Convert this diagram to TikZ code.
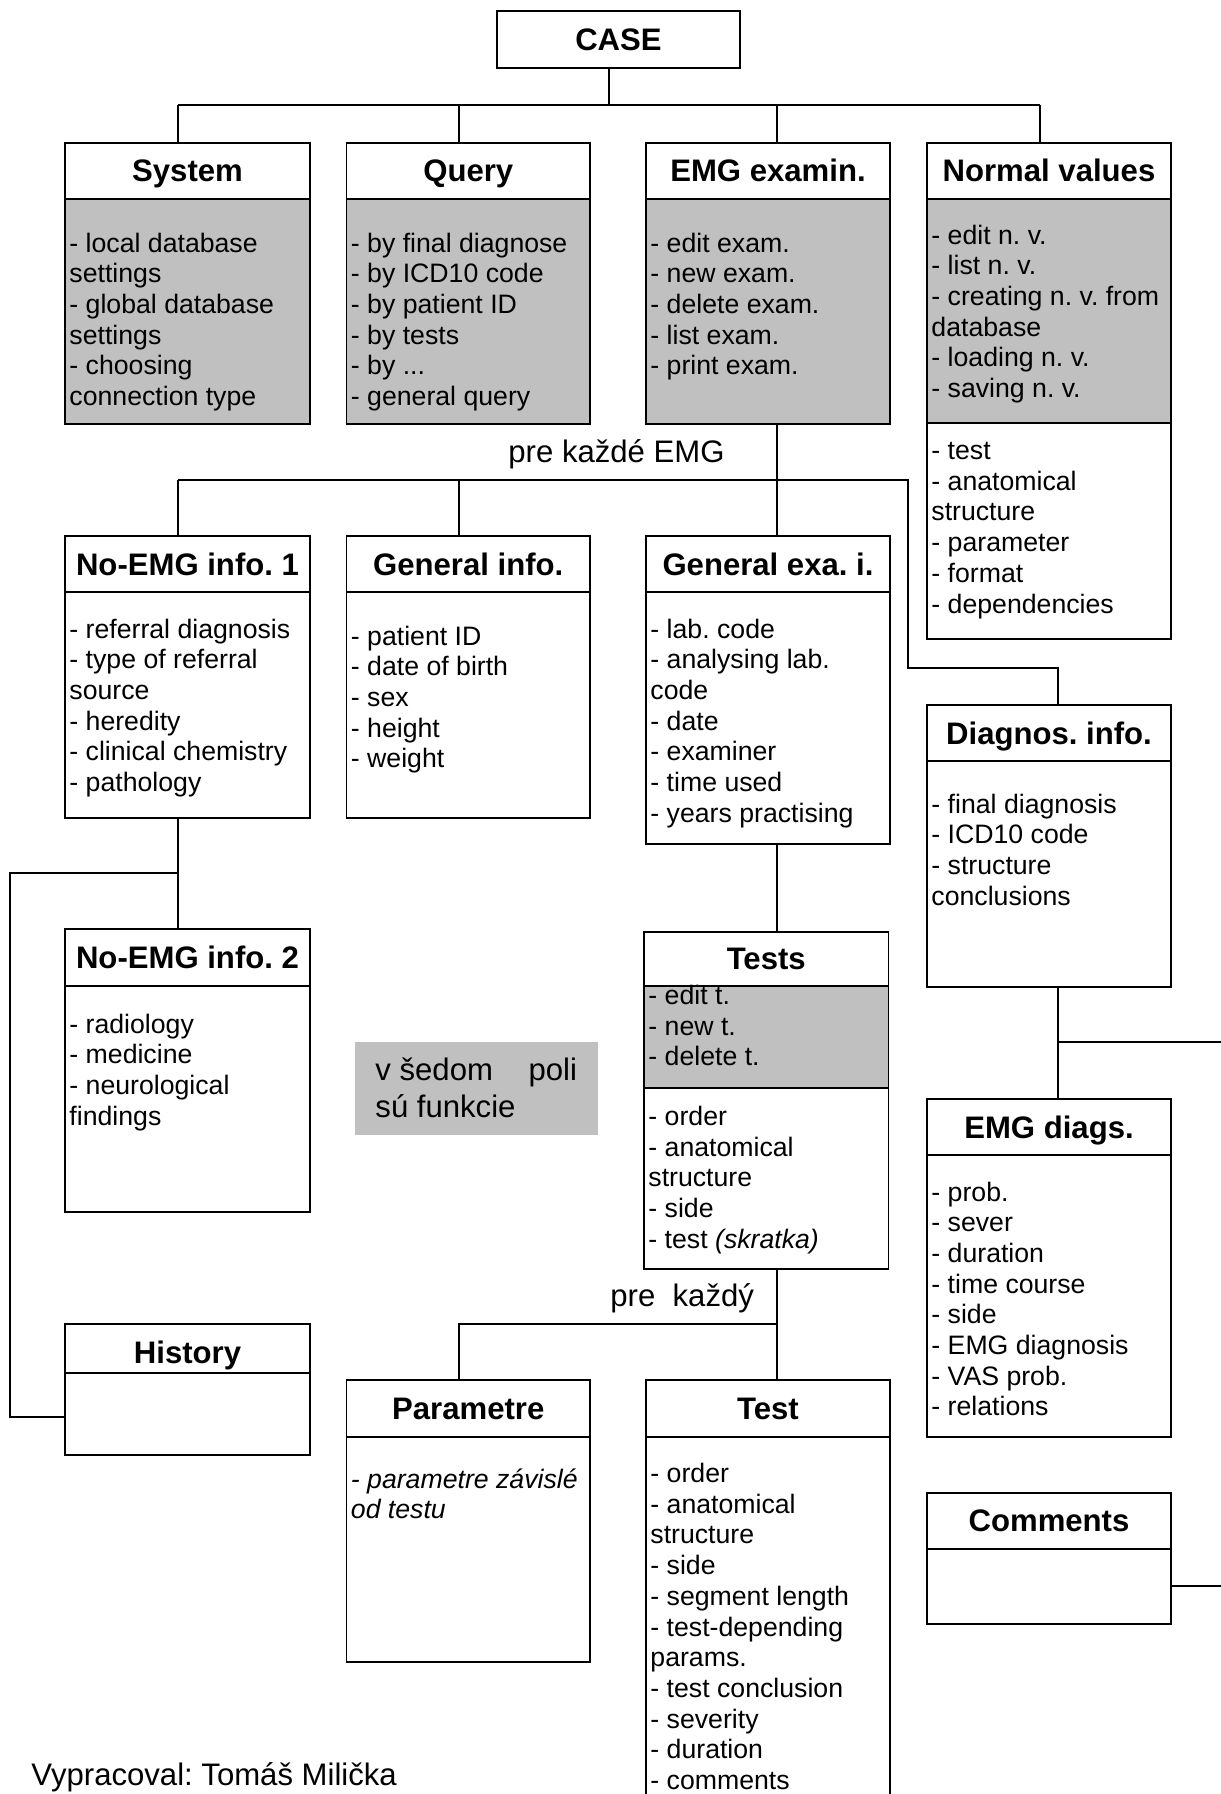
\documentclass[tikz,border=0pt]{standalone}
\usepackage{fontspec}
\setmainfont{Liberation Sans}
\usetikzlibrary{fit}
\definecolor{gfill}{RGB}{192,192,192}
\frenchspacing
\newcommand\boxlines[4]{\foreach \t [count=\i] in {#4} {\node[itm] (#1\i) at (#2,{#3+(\i-1)*30.7}) {\t};}}
\begin{document}
\begin{tikzpicture}[x=0.45pt,y=-0.45pt,
  hd/.style={draw, line width=0.8pt, inner sep=0pt},
  ttl/.style={anchor=base, inner sep=0pt, yshift=-5pt, font=\fontsize{14}{16}\selectfont\bfseries},
  bd/.style={draw, line width=0.8pt, inner sep=0pt},
  gbd/.style={bd, fill=gfill},
  itm/.style={anchor=base west, inner sep=0pt, font=\fontsize{12}{14}\selectfont},
  lab/.style={anchor=base west, inner sep=0pt, font=\fontsize{14}{16}\selectfont},
  con/.style={line width=0.75pt}]
\useasboundingbox (0,0) rectangle (1221,1794);

% legend box
\node[fit={(355,1042) (598,1134.7)}, fill=gfill, inner sep=0pt] (leg) {};
\node[lab] (leg1) at (375,1080) {v šedom\hspace{16pt}poli};
\node[lab] (leg2) at (375,1117) {sú funkcie};

% boxes
\node[hd, fit={(497,10.7) (740,68)}] (case) {};

\node[hd, fit={(65,142.7) (310,198.7)}] (sysH) {};
\node[gbd, fit={(65,198.7) (310,424)}] (sysB) {};
\node[hd, fit={(346.5,142.7) (590,198.7)}] (qH) {};
\node[gbd, fit={(346.5,198.7) (590,424)}] (qB) {};
\node[hd, fit={(646,142.7) (890,198.7)}] (emH) {};
\node[gbd, fit={(646,198.7) (890,424)}] (emB) {};
\node[hd, fit={(927,142.7) (1171,198.7)}] (nvH) {};
\node[gbd, fit={(927,198.7) (1171,423)}] (nvB) {};
\node[bd, fit={(927,423) (1171,639)}] (nvB2) {};

\node[hd, fit={(65,536) (310,592)}] (ne1H) {};
\node[bd, fit={(65,592) (310,817.7)}] (ne1B) {};
\node[hd, fit={(346.5,536) (590,592)}] (giH) {};
\node[bd, fit={(346.5,592) (590,817.7)}] (giB) {};
\node[hd, fit={(646,536) (890,592)}] (gxH) {};
\node[bd, fit={(646,592) (890,844)}] (gxB) {};
\node[hd, fit={(927,705) (1171,761)}] (diH) {};
\node[bd, fit={(927,761) (1171,986.7)}] (diB) {};

\node[hd, fit={(65,929.3) (310,986)}] (ne2H) {};
\node[bd, fit={(65,986) (310,1211.7)}] (ne2B) {};
\node[hd, fit={(644,931.7) (888.5,986)}] (tsH) {};
\node[gbd, fit={(644,986) (888.5,1087.7)}] (tsB) {};
\node[bd, fit={(644,1087.7) (888.5,1269)}] (tsB2) {};
\node[hd, fit={(927,1099) (1171,1155)}] (edH) {};
\node[bd, fit={(927,1155) (1171,1436.7)}] (edB) {};

\node[hd, fit={(65,1323.7) (310,1372.7)}] (hiH) {};
\node[bd, fit={(65,1372.7) (310,1455)}] (hiB) {};
\node[hd, fit={(346.5,1380) (590,1436.7)}] (paH) {};
\node[bd, fit={(346.5,1436.7) (590,1662)}] (paB) {};
\node[hd, fit={(646,1380) (890,1436.7)}] (teH) {};
\node[bd, fit={(646,1436.7) (890,1830)}] (teB) {};
\node[hd, fit={(927,1492.7) (1171,1549)}] (coH) {};
\node[bd, fit={(927,1549) (1171,1624)}] (coB) {};

% titles
\node[ttl] (caseT) at (case.center) {CASE};
\node[ttl] (sysT) at (sysH.center) {System};
\node[ttl] (qT) at (qH.center) {Query};
\node[ttl] (emT) at (emH.center) {EMG examin.};
\node[ttl] (nvT) at (nvH.center) {Normal values};
\node[ttl] (ne1T) at (ne1H.center) {No-EMG info. 1};
\node[ttl] (giT) at (giH.center) {General info.};
\node[ttl] (gxT) at (gxH.center) {General exa. i.};
\node[ttl] (diT) at (diH.center) {Diagnos. info.};
\node[ttl] (ne2T) at (ne2H.center) {No-EMG info. 2};
\node[ttl] (tsT) at (tsH.center) {Tests};
\node[ttl] (edT) at (edH.center) {EMG diags.};
\node[ttl, yshift=-2pt] (hiT) at (hiH.center) {History};
\node[ttl] (paT) at (paH.center) {Parametre};
\node[ttl] (teT) at (teH.center) {Test};
\node[ttl] (coT) at (coH.center) {Comments};

% box contents
\boxlines{sy}{69}{252}{- local database, settings, - global database, settings, - choosing, connection type}
\boxlines{qu}{350.5}{252}{- by final diagnose, - by ICD10 code, - by patient ID, - by tests, {- by .{}.{}.}, - general query}
\boxlines{em}{650}{252}{- edit exam., - new exam., - delete exam., - list exam., - print exam.}
\boxlines{nv}{931}{244}{- edit n. v., - list n. v., - creating n. v. from, database, - loading n. v., - saving n. v.}
\boxlines{nw}{931}{459.5}{- test, - anatomical, structure, - parameter, - format, - dependencies}
\boxlines{na}{69}{638}{- referral diagnosis, - type of referral, source, - heredity, - clinical chemistry, - pathology}
\boxlines{gi}{350.5}{645}{- patient ID, - date of birth, - sex, - height, - weight}
\boxlines{gx}{650}{638}{- lab. code, - analysing lab., code, - date, - examiner, - time used, - years practising}
\boxlines{di}{931}{813}{- final diagnosis, - ICD10 code, - structure, conclusions}
\boxlines{nb}{69}{1033}{- radiology, - medicine, - neurological, findings}
\boxlines{tg}{648}{1004.5}{- edit t., - new t., - delete t.}
\boxlines{tw}{648}{1125.5}{- order, - anatomical, structure, - side, {- test \textit{(skratka)}}}
\boxlines{ed}{931}{1201}{- prob., - sever, - duration, - time course, - side, - EMG diagnosis, - VAS prob., - relations}
\boxlines{pa}{350.5}{1488}{{\textit{- parametre závislé}}, {\textit{od testu}}}
\boxlines{te}{650}{1482.5}{- order, - anatomical, structure, - side, - segment length, - test-depending, params., - test conclusion, - severity, - duration, - comments}

% labels
\node[lab] (lbl1) at (508,462) {pre každé EMG};
\node[lab] (lbl2) at (610,1306) {pre~~každý};
\node[lab] (auth) at (31,1785) {Vypracoval: Tomáš Milička};

% connectors
\coordinate (cx) at (609,105);
\coordinate (xA) at (178,105);
\coordinate (xB) at (459,105);
\coordinate (xC) at (777,105);
\coordinate (xD) at (1040,105);
\draw[con] (case.south -| cx) -- (cx);
\draw[con] (xA) -- (xD);
\draw[con] (xA) -- (xA |- sysH.north);
\draw[con] (xB) -- (xB |- qH.north);
\draw[con] (xC) -- (xC |- emH.north);
\draw[con] (xD) -- (xD |- nvH.north);

\coordinate (mA) at (178,480);
\coordinate (mB) at (459,480);
\coordinate (mE) at (908,480);
\coordinate (mF) at (1058,667.7);
\draw[con] (mA) -- (mE) |- (mF) -- (mF |- diH.north);
\draw[con] (mA) -- (mA |- ne1H.north);
\draw[con] (mB) -- (mB |- giH.north);
\draw[con] (emB.south -| xC) -- (xC |- gxH.north);

\draw[con] (ne1B.south -| xA) -- (xA |- ne2H.north);
\coordinate (hA) at (178,873);
\coordinate (hB) at (10,873);
\coordinate (hC) at (10,1416.7);
\draw[con] (hA) -- (hB) -- (hC) -- (hC -| hiB.west);

\draw[con] (gxB.south -| xC) -- (xC |- tsH.north);
\draw[con] (tsB2.south -| xC) -- (xC |- teH.north);
\coordinate (pA) at (777,1323.7);
\coordinate (pB) at (459,1323.7);
\draw[con] (pA) -- (pB) -- (pB |- paH.north);

\coordinate (dA) at (1058,1042);
\coordinate (dB) at (1221,1042);
\draw[con] (diB.south -| dA) -- (dA |- edH.north);
\draw[con] (dA) -- (dB);
\coordinate (cA) at (1221,1586);
\draw[con] (cA -| coB.east) -- (cA);
\end{tikzpicture}
\end{document}
